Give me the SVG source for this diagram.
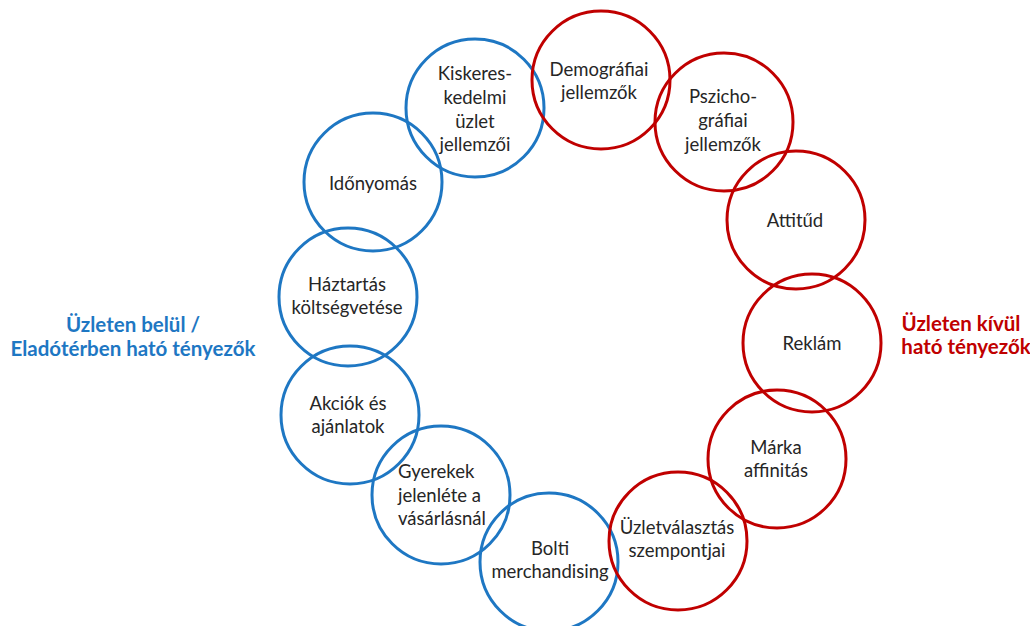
<svg xmlns="http://www.w3.org/2000/svg" width="1030" height="626" viewBox="0 0 1030 626">
  <style>
    .in circle { fill: none; stroke: #1e77c3; stroke-width: 3; }
    .out circle { fill: none; stroke: #c00000; stroke-width: 3; }
    text { font-family: Lato, "Open Sans", "Liberation Sans", sans-serif; font-size: 18.5px; fill: #262626; text-anchor: middle; }
    .head { font-weight: bold; font-size: 20.5px; }
    .head.blue { fill: #1e77c3; }
    .head.red { fill: #c00000; }
  </style>
  <rect width="1030" height="626" fill="#ffffff"/>

  <!-- in-store factors -->
  <g class="in">
    <g id="kiskereskedelmi">
      <circle cx="475" cy="108" r="69"/>
      <text x="475" y="80">Kiskeres-</text>
      <text x="475" y="104">kedelmi</text>
      <text x="475" y="128">üzlet</text>
      <text x="475" y="151">jellemzői</text>
    </g>
    <g id="idonyomas">
      <circle cx="373" cy="182" r="69"/>
      <text x="373" y="190">Időnyomás</text>
    </g>
    <g id="haztartas">
      <circle cx="348" cy="297" r="69"/>
      <text x="347" y="291">Háztartás</text>
      <text x="347" y="314">költségvetése</text>
    </g>
    <g id="akciok">
      <circle cx="350" cy="415" r="69"/>
      <text x="348" y="410">Akciók és</text>
      <text x="348" y="433">ajánlatok</text>
    </g>
    <g id="gyerekek">
      <circle cx="441" cy="495" r="69"/>
      <text x="398" y="478" style="text-anchor:start">Gyerekek</text>
      <text x="398" y="502" style="text-anchor:start">jelenléte a</text>
      <text x="398" y="525" style="text-anchor:start">vásárlásnál</text>
    </g>
    <g id="bolti">
      <circle cx="549" cy="562" r="69"/>
      <text x="550" y="555">Bolti</text>
      <text x="550" y="578">merchandising</text>
    </g>
  </g>

  <!-- external factors -->
  <g class="out">
    <g id="demografiai">
      <circle cx="601" cy="80" r="69"/>
      <text x="599" y="76">Demográfiai</text>
      <text x="599" y="99">jellemzők</text>
    </g>
    <g id="pszichografiai">
      <circle cx="724" cy="122" r="69"/>
      <text x="723" y="103">Pszicho-</text>
      <text x="723" y="127">gráfiai</text>
      <text x="723" y="151">jellemzők</text>
    </g>
    <g id="attitud">
      <circle cx="796" cy="220" r="69"/>
      <text x="795" y="227">Attitűd</text>
    </g>
    <g id="reklam">
      <circle cx="812" cy="343" r="69"/>
      <text x="812" y="350">Reklám</text>
    </g>
    <g id="marka">
      <circle cx="777" cy="459" r="69"/>
      <text x="776" y="454">Márka</text>
      <text x="776" y="477">affinitás</text>
    </g>
    <g id="uzletvalasztas">
      <circle cx="678" cy="541" r="69"/>
      <text x="677" y="534">Üzletválasztás</text>
      <text x="677" y="557">szempontjai</text>
    </g>
  </g>

  <!-- group headings -->
  <g id="label-in">
    <text class="head blue" x="133" y="332">Üzleten belül /</text>
    <text class="head blue" x="133" y="356">Eladótérben ható tényezők</text>
  </g>
  <g id="label-out">
    <text class="head red" x="961" y="331">Üzleten kívül</text>
    <text class="head red" x="966" y="354">ható tényezők</text>
  </g>
</svg>
